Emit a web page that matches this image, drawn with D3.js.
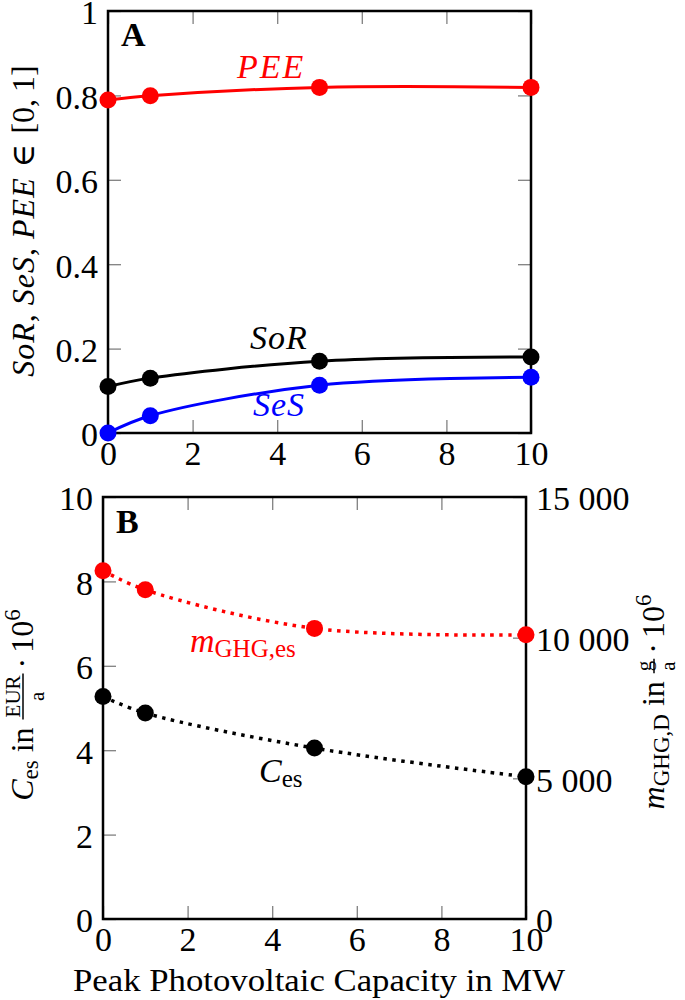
<!DOCTYPE html>
<html>
<head>
<meta charset="utf-8">
<script src="https://cdn.jsdelivr.net/npm/d3@7"></script>
<style>
  html, body { margin: 0; padding: 0; background: #fff; }
  svg { display: block; }
  svg text { font-family: "Liberation Serif", "DejaVu Serif", serif; }
</style>
</head>
<body>
<script>
// ---------- data ----------
const xVals = [0, 1, 5, 10];                  // peak PV capacity in MW
const sorVals = [0.11, 0.13, 0.17, 0.18];     // SoR
const sesVals = [0.0, 0.041, 0.113, 0.132];   // SeS
const peeVals = [0.789, 0.799, 0.819, 0.819]; // PEE
const costVals = [5.27, 4.88, 4.05, 3.37];    // C_es in EUR/a * 1e6
const ghgVals = [12380, 11700, 10330, 10100]; // m_GHG,es in g/a * 1e6
const xTicks = [0, 2, 4, 6, 8, 10];
const yTicksA = [0, 0.2, 0.4, 0.6, 0.8, 1];
const yTicksBL = [0, 2, 4, 6, 8, 10];
const yTicksBR = [0, 5000, 10000, 15000];

const W = 685, H = 1000;
const FS = 32;
const TFS = 34;
const RED = "#ff0000", BLUE = "#0000ff", BLACK = "#000000";

const svg = d3.select("body").append("svg")
  .attr("width", W).attr("height", H);

// ---------- scales ----------
const xA = d3.scaleLinear().domain([0, 10]).range([108, 531]);
const yA = d3.scaleLinear().domain([0, 1]).range([433, 11]);
const xB = d3.scaleLinear().domain([0, 10]).range([103, 526]);
const yBL = d3.scaleLinear().domain([0, 10]).range([919, 497]);
const yBR = d3.scaleLinear().domain([0, 15000]).range([919, 497]);

const TICK = 13;

function styleAxis(g, labels, yShift) {
  g.attr("font-size", TFS);
  g.select(".domain").remove();
  g.selectAll(".tick line").attr("stroke", "#808080").attr("stroke-width", 1.3);
  g.selectAll(".tick text").attr("fill", "#000").style("font-size", TFS + "px");
  if (yShift) g.selectAll(".tick text").attr("y", yShift);
  if (!labels) g.selectAll(".tick text").remove();
}

function panelAxes(x, yL, yR, yTicksL, yTicksR, fmtL, fmtR, rightLabels) {
  const top = yL.range()[1], bottom = yL.range()[0];
  const left = x.range()[0], right = x.range()[1];
  svg.append("g").attr("transform", `translate(0,${bottom})`)
    .call(d3.axisBottom(x).tickValues(xTicks).tickSize(-TICK).tickPadding(8).tickFormat(d3.format("d")))
    .call(g => styleAxis(g, true, 0));
  svg.append("g").attr("transform", `translate(0,${top})`)
    .call(d3.axisTop(x).tickValues(xTicks).tickSize(-TICK).tickFormat(""))
    .call(g => styleAxis(g, false, 0));
  svg.append("g").attr("transform", `translate(${left},0)`)
    .call(d3.axisLeft(yL).tickValues(yTicksL).tickSize(-TICK).tickPadding(10).tickFormat(fmtL))
    .call(g => styleAxis(g, true, 2));
  svg.append("g").attr("transform", `translate(${right},0)`)
    .call(d3.axisRight(yR).tickValues(yTicksR).tickSize(-TICK).tickPadding(10).tickFormat(fmtR))
    .call(g => styleAxis(g, rightLabels, 2));
  svg.append("rect").attr("x", left).attr("y", top)
    .attr("width", right - left).attr("height", bottom - top)
    .attr("fill", "none").attr("stroke", "#000").attr("stroke-width", 2.5);
}

panelAxes(xA, yA, yA, yTicksA, yTicksA, d3.format("~g"), "", false);
panelAxes(xB, yBL, yBR, yTicksBL, yTicksBR, d3.format("d"),
  d => d3.format(",")(d).replace(",", " "), true);

// ---------- series ----------
function series(x, y, vals, color, dotted) {
  const pts = xVals.map((v, i) => [v, vals[i]]);
  const line = d3.line().x(d => x(d[0])).y(d => y(d[1])).curve(d3.curveCatmullRom.alpha(0.5));
  const p = svg.append("path").attr("d", line(pts))
    .attr("fill", "none").attr("stroke", color);
  if (dotted) p.attr("stroke-width", 3.5).attr("stroke-dasharray", "3.5 5.5");
  else p.attr("stroke-width", 3);
  return pts;
}
function dots(x, y, pts, color) {
  svg.append("g").selectAll("circle").data(pts).join("circle")
    .attr("cx", d => x(d[0])).attr("cy", d => y(d[1])).attr("r", 8.5).attr("fill", color);
}

const pPEE = series(xA, yA, peeVals, RED, false);
const pSoR = series(xA, yA, sorVals, BLACK, false);
const pSeS = series(xA, yA, sesVals, BLUE, false);
const pGHG = series(xB, yBR, ghgVals, RED, true);
const pC = series(xB, yBL, costVals, BLACK, true);
dots(xA, yA, pPEE, RED);
dots(xA, yA, pSoR, BLACK);
dots(xA, yA, pSeS, BLUE);
dots(xB, yBR, pGHG, RED);
dots(xB, yBL, pC, BLACK);

// ---------- math-like label helper ----------
function mathLabel(pieces, color) {
  const g = svg.append("g").attr("fill", color);
  const inner = g.append("g");
  let x = 0;
  for (const p of pieces) {
    if (p.gap) { x += p.gap; continue; }
    if (p.frac) {
      const s = p.size;
      const num = inner.append("text").attr("font-size", s).text(p.frac[0]);
      const den = inner.append("text").attr("font-size", s).text(p.frac[1]);
      const w = Math.max(num.node().getComputedTextLength(), den.node().getComputedTextLength()) + 4;
      num.attr("x", x + w / 2).attr("y", p.bar - 3).attr("text-anchor", "middle");
      den.attr("x", x + w / 2).attr("y", p.den).attr("text-anchor", "middle");
      inner.append("line").attr("x1", x).attr("x2", x + w)
        .attr("y1", p.bar).attr("y2", p.bar).attr("stroke", color).attr("stroke-width", 1.5);
      x += w;
      continue;
    }
    const t = inner.append("text").attr("x", x).attr("y", p.dy || 0)
      .attr("font-size", p.size || FS)
      .attr("font-style", p.it ? "italic" : null)
      .attr("font-weight", p.bold ? "bold" : null)
      .attr("letter-spacing", p.ls || null)
      .text(p.t);
    x += t.node().getComputedTextLength();
  }
  return { g, inner, width: x };
}
function placeH(lbl, x, y) { lbl.g.attr("transform", `translate(${x},${y})`); }
function placeV(lbl, bx, cy) {
  lbl.g.attr("transform", `translate(${bx},${cy}) rotate(-90)`);
  lbl.inner.attr("transform", `translate(${-lbl.width / 2},0)`);
}

// panel letters
placeH(mathLabel([{ t: "A", bold: true, size: 34 }], BLACK), 121, 46);
placeH(mathLabel([{ t: "B", bold: true, size: 34 }], BLACK), 116, 533);

// panel A series labels
placeH(mathLabel([{ t: "PEE", it: true, size: 34, ls: 2 }], RED), 237, 78);
placeH(mathLabel([{ t: "SoR", it: true, size: 34, ls: 1 }], BLACK), 250, 349);
placeH(mathLabel([{ t: "SeS", it: true, size: 34, ls: 1 }], BLUE), 253, 416);

// panel B series labels
placeH(mathLabel([{ t: "m", it: true, size: 34 }, { t: "GHG,es", size: 25, dy: 5 }], RED), 190, 652);
placeH(mathLabel([{ t: "C", it: true, size: 34 }, { t: "es", size: 25, dy: 5 }], BLACK), 259, 782);

// axis titles
placeV(mathLabel([
  { t: "SoR", it: true, ls: 1 }, { t: "," }, { gap: 9 },
  { t: "SeS", it: true, ls: 1 }, { t: "," }, { gap: 9 },
  { t: "PEE", it: true, ls: 1 }, { gap: 10 }, { t: "\u2208" }, { gap: 10 },
  { t: "[0," }, { gap: 7 }, { t: "1]" }
], BLACK), 34, 221);

placeV(mathLabel([
  { t: "C", it: true }, { t: "es", size: 23, dy: 5 }, { gap: 8 },
  { t: "in" }, { gap: 8 },
  { frac: ["EUR", "a"], size: 21, bar: -10, den: 11 }, { gap: 5 },
  { t: "\u00b7" }, { gap: 5 },
  { t: "10" }, { t: "6", size: 23, dy: -13 }
], BLACK), 33, 705);

placeV(mathLabel([
  { t: "m", it: true }, { t: "GHG,D", size: 23, dy: 5 }, { gap: 8 },
  { t: "in" }, { gap: 8 },
  { frac: ["g", "a"], size: 21, bar: -10, den: 11 }, { gap: 5 },
  { t: "\u00b7" }, { gap: 5 },
  { t: "10" }, { t: "6", size: 23, dy: -13 }
], BLACK), 664, 702);

// x axis title
svg.append("text").attr("x", 319).attr("y", 991).attr("text-anchor", "middle")
  .attr("font-size", FS).attr("textLength", 492).attr("lengthAdjust", "spacingAndGlyphs")
  .text("Peak Photovoltaic Capacity in MW");
</script>
</body>
</html>
